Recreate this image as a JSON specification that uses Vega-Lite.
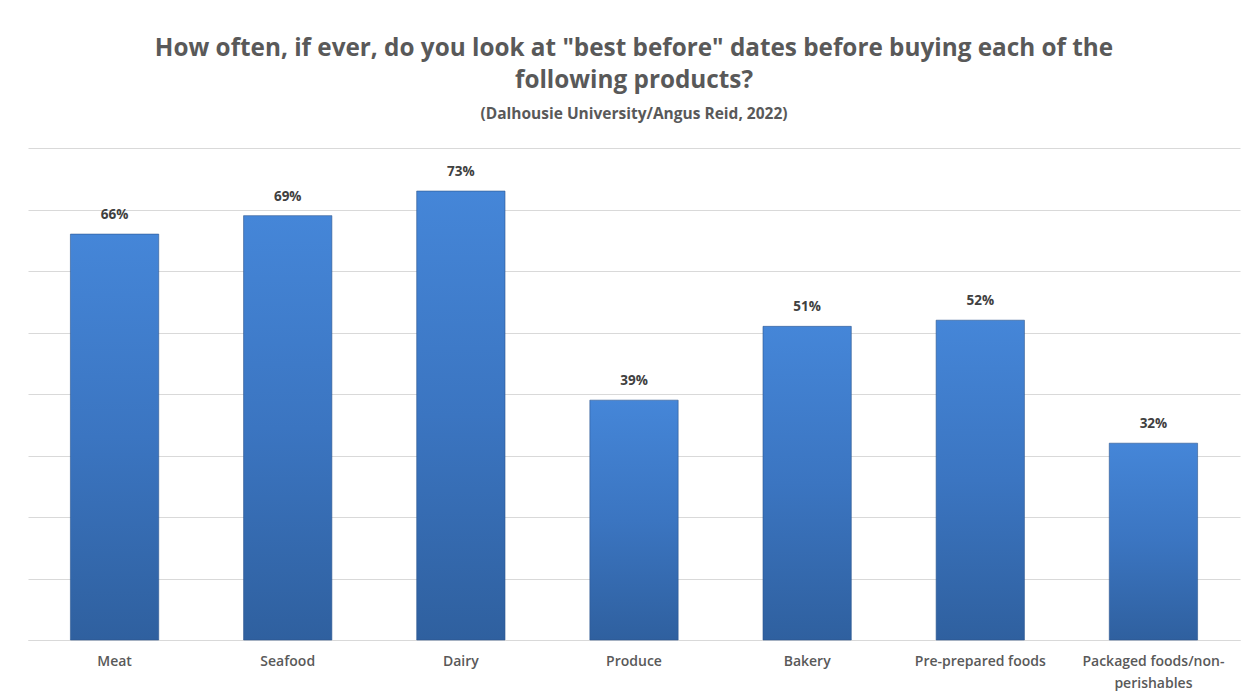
{
  "$schema": "https://vega.github.io/schema/vega-lite/v6.json",
  "autosize": "none",
  "width": 1212,
  "height": 492,
  "padding": {"left": 28, "top": 148, "right": 15, "bottom": 60},
  "background": "white",
  "title": {
    "text": ["How often, if ever, do you look at \"best before\" dates before buying each of the", "following products?"],
    "subtitle": "(Dalhousie University/Angus Reid, 2022)",
    "anchor": "middle",
    "frame": "group",
    "font": "Open Sans",
    "fontSize": 24.3,
    "fontWeight": "bold",
    "color": "#595959",
    "lineHeight": 32,
    "subtitleFont": "Open Sans",
    "subtitleFontSize": 15.5,
    "subtitleFontWeight": "bold",
    "subtitleColor": "#595959",
    "subtitlePadding": 13,
    "offset": 26
  },
  "data": {
    "values": [
      {"product": "Meat", "pct": 0.66},
      {"product": "Seafood", "pct": 0.69},
      {"product": "Dairy", "pct": 0.73},
      {"product": "Produce", "pct": 0.39},
      {"product": "Bakery", "pct": 0.51},
      {"product": "Pre-prepared foods", "pct": 0.52},
      {"product": "Packaged foods/non-perishables", "pct": 0.32}
    ]
  },
  "config": {
    "view": {"stroke": null},
    "font": "Open Sans"
  },
  "encoding": {
    "x": {
      "field": "product",
      "type": "nominal",
      "sort": null,
      "title": null,
      "scale": {"paddingInner": 0.49, "paddingOuter": 0.245},
      "axis": {
        "labelAngle": 0,
        "labelFont": "Open Sans",
        "labelFontSize": 14,
        "labelFontWeight": 600,
        "labelColor": "#595959",
        "labelPadding": 14,
        "labelLineHeight": 22,
        "ticks": false,
        "domainColor": "#d9d9d9",
        "domainWidth": 1,
        "labelExpr": "datum.label == 'Packaged foods/non-perishables' ? ['Packaged foods/non-', 'perishables'] : datum.label"
      }
    },
    "y": {
      "field": "pct",
      "type": "quantitative",
      "title": null,
      "scale": {"domain": [0, 0.8], "nice": false},
      "axis": {
        "values": [0, 0.1, 0.2, 0.3, 0.4, 0.5, 0.6, 0.7, 0.8],
        "labels": false,
        "ticks": false,
        "domain": false,
        "grid": true,
        "gridColor": "#d9d9d9",
        "gridWidth": 1
      }
    }
  },
  "layer": [
    {
      "mark": {
        "type": "bar",
        "stroke": "#2b568f",
        "strokeWidth": 0.6,
        "color": {
          "gradient": "linear",
          "x1": 0, "y1": 0, "x2": 0, "y2": 1,
          "stops": [
            {"offset": 0, "color": "#4586d8"},
            {"offset": 0.5, "color": "#3b75c1"},
            {"offset": 1, "color": "#2f609f"}
          ]
        }
      }
    },
    {
      "mark": {
        "type": "text",
        "baseline": "bottom",
        "dy": -12,
        "font": "Open Sans",
        "fontSize": 13.5,
        "fontWeight": "bold",
        "color": "#404040"
      },
      "encoding": {
        "text": {"field": "pct", "type": "quantitative", "format": ".0%"}
      }
    }
  ]
}
